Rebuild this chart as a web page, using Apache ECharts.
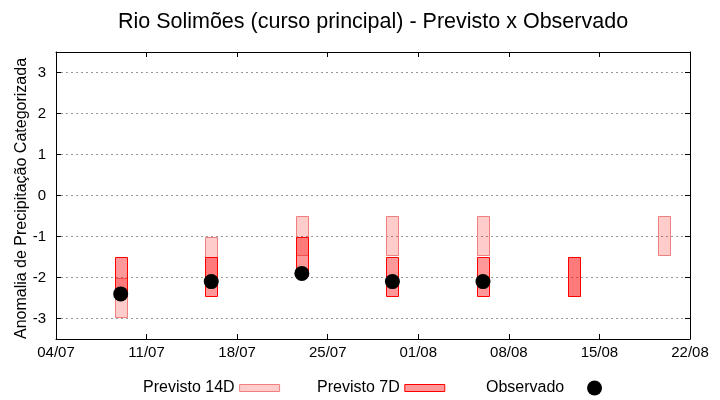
<!DOCTYPE html>
<html>
<head>
<meta charset="utf-8">
<script src="https://cdn.jsdelivr.net/npm/echarts@6/dist/echarts.min.js"></script>
<style>html,body{margin:0;padding:0;background:#fff}#c{width:720px;height:400px}</style>
</head>
<body>
<div id="c"></div>
<script>
// ---- data ----
const startDate = '2024-07-04';
const endDate = '2024-08-22';
const dates = ['2024-07-09','2024-07-16','2024-07-23','2024-07-30','2024-08-06','2024-08-13','2024-08-20'];
const prev14Top    = [-2.0, -1.0, -0.5, -0.5, -0.5, -1.5, -0.5];
const prev14Bottom = [-2.95, -1.95, -1.45, -1.45, -1.45, -2.45, -1.45];
const prev7Top     = [-1.5, -1.5, -1.0, -1.5, -1.5, -1.5, null];
const prev7Bottom  = [-2.45, -2.45, -1.95, -2.45, -2.45, -2.45, null];
const observado    = [-2.4, -2.1, -1.9, -2.1, -2.1, null, null];
const yTicks = [-3, -2, -1, 0, 1, 2, 3];
const xTickStepDays = 7;

// ---- helpers ----
const DAY = 86400000;
const t0 = Date.parse(startDate + 'T00:00:00Z');
const dayOf = s => Math.round((Date.parse(s + 'T00:00:00Z') - t0) / DAY);
const totalDays = dayOf(endDate);
const fmt = v => {
  const d = new Date(t0 + v * DAY);
  const dd = String(d.getUTCDate()).padStart(2, '0');
  const mm = String(d.getUTCMonth() + 1).padStart(2, '0');
  return dd + '/' + mm;
};

const FONT = 'Liberation Sans, Arial, sans-serif';
const HALF_W = 0.46;

function boxData(tops, bottoms) {
  const out = [];
  dates.forEach((d, i) => {
    if (tops[i] != null && bottoms[i] != null) out.push([dayOf(d), bottoms[i], tops[i]]);
  });
  return out;
}
function boxRender(fill, stroke) {
  return function (params, api) {
    const x = api.value(0), lo = api.value(1), hi = api.value(2);
    const p1 = api.coord([x - HALF_W, hi]);
    const p2 = api.coord([x + HALF_W, lo]);
    return {
      type: 'rect',
      shape: { x: Math.round(p1[0]) + 0.5, y: Math.round(p1[1]) + 0.5,
               width: Math.round(p2[0] - p1[0]), height: Math.round(p2[1] - p1[1]) },
      style: { fill: fill, stroke: stroke, lineWidth: 1 }
    };
  };
}

const fill14 = 'rgba(255,0,0,0.2)', stroke14 = '#f08080';
const fill7 = 'rgba(255,0,0,0.4)', stroke7 = '#ff0000';

const obsData = [];
dates.forEach((d, i) => { if (observado[i] != null) obsData.push([dayOf(d), observado[i]]); });

const chart = echarts.init(document.getElementById('c'), null, { renderer: 'canvas' });
const xCommon = {
  type: 'value', min: 0, max: totalDays, interval: xTickStepDays,
  axisLine: { show: true, onZero: false, lineStyle: { color: '#000', width: 1 } },
  axisTick: { show: true, inside: true, length: 5, lineStyle: { color: '#000' } },
  splitLine: { show: false }
};
const yCommon = {
  type: 'value', min: -3.5, max: 3.5,
  axisLine: { show: true, onZero: false, lineStyle: { color: '#000', width: 1 } },
  axisTick: { show: true, inside: true, length: 5, customValues: yTicks, lineStyle: { color: '#000' } }
};

chart.setOption({
  animation: false,
  backgroundColor: '#fff',
  title: {
    text: 'Rio Solimões (curso principal) - Previsto x Observado',
    left: 368, top: 6, textAlign: 'center',
    textStyle: { fontFamily: FONT, fontSize: 21.5, fontWeight: 'normal', color: '#000' }
  },
  grid: { left: 56, right: 30, top: 52, bottom: 61, show: false },
  legend: [
    {
      left: 143, top: 380, padding: 0, align: 'right', itemGap: 37, itemWidth: 40, itemHeight: 7,
      textStyle: { fontFamily: FONT, fontSize: 16, color: '#000' },
      selectedMode: false,
      data: [
        { name: 'Previsto 14D', icon: 'rect', itemStyle: { color: fill14, borderColor: stroke14, borderWidth: 1 } },
        { name: 'Previsto 7D', icon: 'rect', itemStyle: { color: fill7, borderColor: stroke7, borderWidth: 1 } }
      ]
    },
    {
      left: 486, top: 380, padding: 0, align: 'right', itemWidth: 15, itemHeight: 15,
      textStyle: { fontFamily: FONT, fontSize: 16, color: '#000' },
      selectedMode: false,
      formatter: n => n + '    ',
      data: [{ name: 'Observado', icon: 'circle', itemStyle: { color: '#000', opacity: 1 } }]
    }
  ],
  xAxis: [
    Object.assign({}, xCommon, {
      position: 'bottom',
      axisLabel: { show: true, formatter: fmt, margin: 6, fontFamily: FONT, fontSize: 15, color: '#000' }
    }),
    Object.assign({}, xCommon, { position: 'top', axisLabel: { show: false } })
  ],
  yAxis: [
    Object.assign({}, yCommon, {
      position: 'left',
      name: 'Anomalia de Precipitação Categorizada',
      nameLocation: 'middle', nameRotate: 90, nameGap: 26, nameMoveOverlap: false,
      nameTextStyle: { fontFamily: FONT, fontSize: 16, color: '#000', padding: [0, 6, 0, 0] },
      axisLabel: { show: true, customValues: yTicks, margin: 10, fontFamily: FONT, fontSize: 15, color: '#000' },
      splitLine: { show: true, lineStyle: { color: '#999', width: 1, type: [2, 3] } }
    }),
    Object.assign({}, yCommon, {
      position: 'right', axisLabel: { show: false }, splitLine: { show: false }
    })
  ],
  series: [
    {
      name: 'Previsto 14D', type: 'custom', xAxisIndex: 0, yAxisIndex: 0,
      itemStyle: { color: fill14, borderColor: stroke14 },
      renderItem: boxRender(fill14, stroke14),
      encode: { x: 0, y: [1, 2] },
      data: boxData(prev14Top, prev14Bottom), z: 2
    },
    {
      name: 'Previsto 7D', type: 'custom', xAxisIndex: 0, yAxisIndex: 0,
      itemStyle: { color: fill7, borderColor: stroke7 },
      renderItem: boxRender(fill7, stroke7),
      encode: { x: 0, y: [1, 2] },
      data: boxData(prev7Top, prev7Bottom), z: 3
    },
    {
      name: 'Observado', type: 'scatter', xAxisIndex: 0, yAxisIndex: 0,
      symbol: 'circle', symbolSize: 15, itemStyle: { color: '#000', opacity: 1 },
      data: obsData, z: 4
    }
  ]
});
</script>
</body>
</html>
